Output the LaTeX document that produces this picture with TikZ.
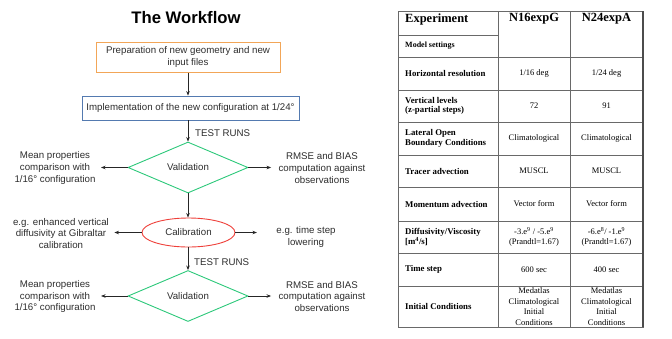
\documentclass[tikz,border=0pt]{standalone}
\usepackage{fontspec}
\setmainfont{Liberation Sans}
\newfontfamily\tabfont{Liberation Serif}
\usepackage{tikz}
\usetikzlibrary{positioning,arrows.meta,shapes.geometric,calc}
\definecolor{prepcol}{RGB}{242,166,88}
\definecolor{implcol}{RGB}{84,122,176}
\definecolor{validcol}{RGB}{44,200,122}
\definecolor{calibcol}{RGB}{238,64,58}
\definecolor{flowtext}{RGB}{45,45,45}
\definecolor{rulecol}{RGB}{105,105,105}
% one table row: name, y, label, N16expG, N24expA
\newcommand{\tabrow}[5]{%
  \node[rowlab] (#1-lab) at (405,#2) {#3};
  \node[rowval] (#1-g) at (534,#2) {#4};
  \node[rowval] (#1-a) at (606.5,#2) {#5};
}

\begin{document}
\begin{tikzpicture}[x=1pt,y=-1pt,
    flow/.style={font=\fontsize{9.7}{11.6}\selectfont, text=flowtext, align=center},
    prepbox/.style={flow, draw=prepcol, line width=1pt, minimum width=184pt, minimum height=30pt, inner sep=1pt},
    implbox/.style={flow, draw=implcol, line width=.8pt, minimum width=217pt, minimum height=24pt, inner sep=1pt},
    validbox/.style={flow, diamond, draw=validcol, line width=.9pt, minimum width=120pt, minimum height=51pt, inner sep=0pt},
    calibbox/.style={flow, ellipse, draw=calibcol, line width=.9pt, minimum width=93pt, minimum height=29pt, inner sep=0pt},
    arr/.style={-{Stealth[length=4.5pt,width=3.5pt]}, line width=.8pt, black!85},
    runs/.style={flow, anchor=west, inner sep=0pt},
    rowlab/.style={font=\tabfont\bfseries\fontsize{8.8}{9.5}\selectfont, anchor=west, align=left, inner sep=0pt},
    rowval/.style={font=\tabfont\fontsize{8.5}{10.5}\selectfont, align=center, inner sep=0pt},
    head/.style={font=\tabfont\bfseries\fontsize{12.5}{13}\selectfont, inner sep=0pt},
  ]
  \useasboundingbox (0,0) rectangle (672,338);

  \node[font=\bfseries\fontsize{16.7}{19}\selectfont] (title) at (186,18) {The Workflow};

  % flow chart
  \node[prepbox] (prep) at (188,57) {Preparation of new geometry and new\\input files};
  \node[implbox] (impl) at (190.5,108) {Implementation of the new configuration at 1/24°};
  \node[validbox] (valid) at (188,167.5) {Validation};
  \node[calibbox] (calib) at (188.5,232.5) {Calibration};
  \node[validbox] (revalid) at (188,296) {Validation};

  \node[runs] (runsA) at (195,133) {TEST RUNS};
  \node[runs] (runsB) at (194,262) {TEST RUNS};

  \node[flow] (meanA) at (55,168) {Mean properties\\comparison with\\1/16° configuration};
  \node[flow] (rmseA) at (322,168) {RMSE and BIAS\\computation against\\observations};
  \node[flow] (diffnote) at (61,233.5) {e.g. enhanced vertical\\diffusivity at Gibraltar\\calibration};
  \node[flow] (stepnote) at (306,237) {e.g. time step\\lowering};
  \node[flow] (meanB) at (55,296.5) {Mean properties\\comparison with\\1/16° configuration};
  \node[flow] (rmseB) at (322,296.5) {RMSE and BIAS\\computation against\\observations};

  \draw[arr] (prep.south) -- (prep.south |- impl.north);
  \draw[arr] (impl.south -| valid.north) -- (valid.north);
  \draw[arr] (valid.south) -- (calib.north -| valid.south);
  \draw[arr] (calib.south -| revalid.north) -- (revalid.north);
  \draw[arr] (valid.west) -- ([xshift=2pt]meanA.east |- valid.west);
  \draw[arr] (valid.east) -- ([xshift=-4pt]rmseA.west |- valid.east);
  \draw[arr] (calib.west) -- ([xshift=2pt]diffnote.east |- calib.west);
  \draw[arr] (calib.east) -- ([xshift=-16pt]stepnote.west |- calib.east);
  \draw[arr] (revalid.west) -- ([xshift=2pt]meanB.east |- revalid.west);
  \draw[arr] (revalid.east) -- ([xshift=-4pt]rmseB.west |- revalid.east);

  % settings table
  \draw[rulecol, line width=.6pt] (398,11) rectangle (643,327);
  \draw[rulecol, line width=.6pt] (398,35) -- (498,35);
  \foreach \y in {57,90,122,155,187,221,253,286}
    \draw[rulecol, line width=.6pt] (398,\y) -- (643,\y);
  \foreach \x in {498,570}
    \draw[rulecol, line width=.6pt] (\x,11) -- (\x,327);
  \draw[black!70, line width=1.2pt] (643,11) -- (643,327);

  \node[head, anchor=west] (hexp) at (405,19) {Experiment};
  \node[head] (hg) at (534,19) {N16expG};
  \node[head] (ha) at (606.5,19) {N24expA};
  \node[rowlab, font=\tabfont\bfseries\fontsize{8}{9}\selectfont] (hmodel) at (405,46) {Model settings};

  \tabrow{hres}{73.5}{Horizontal resolution}{1/16 deg}{1/24 deg}
  \tabrow{vlev}{106}{Vertical levels\\(z-partial steps)}{72}{91}
  \tabrow{lobc}{138.5}{Lateral Open\\Boundary Conditions}{Climatological}{Climatological}
  \tabrow{tadv}{171}{Tracer advection}{MUSCL}{MUSCL}
  \tabrow{madv}{204}{Momentum advection}{Vector form}{Vector form}
  \tabrow{diff}{237}{Diffusivity/Viscosity\\{}[m\textsuperscript{4}/s]}{-3.e\textsuperscript{9} / -5.e\textsuperscript{9}\\(Prandtl=1.67)}{-6.e\textsuperscript{8}/ -1.e\textsuperscript{9}\\(Prandtl=1.67)}
  \tabrow{tstep}{269.5}{Time step}{600 sec}{400 sec}
  \tabrow{init}{306.5}{Initial Conditions}{Medatlas\\Climatological\\Initial\\Conditions}{Medatlas\\Climatological\\Initial\\Conditions}
\end{tikzpicture}
\end{document}
